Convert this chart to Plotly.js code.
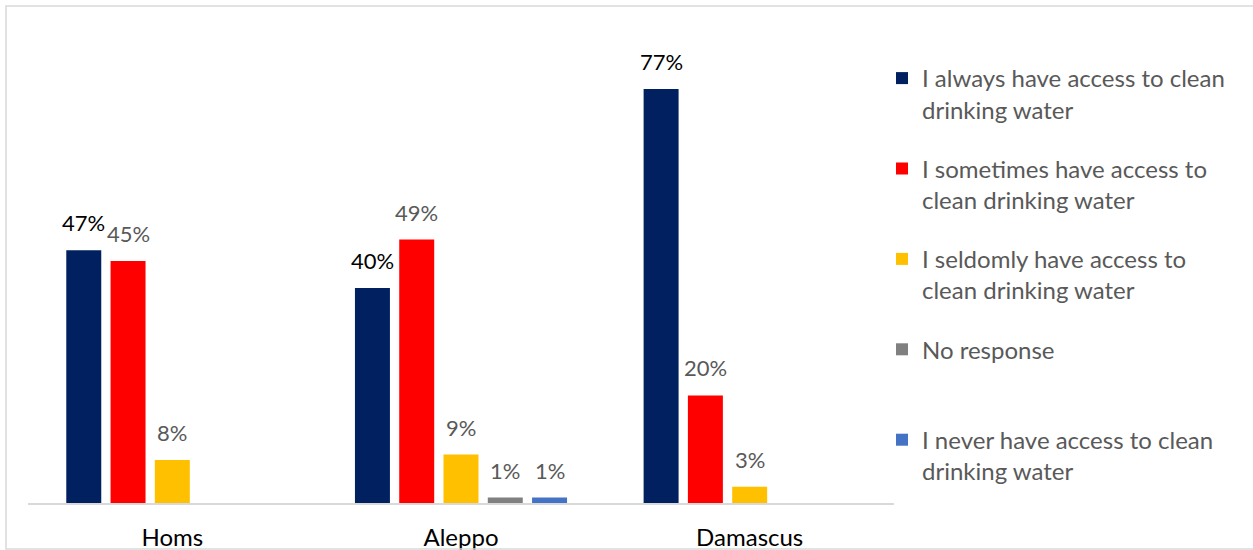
<!DOCTYPE html>
<html>
<head>
<meta charset="utf-8">
<script src="https://cdn.plot.ly/plotly-3.0.1.min.js"></script>
<style>
html,body{margin:0;padding:0;background:#fff;}
#chart{width:1253px;height:550px;}
</style>
</head>
<body>
<div id="chart"></div>
<script>
const categories = ["Homs", "Aleppo", "Damascus"];
const seriesNames = [
  "I always have access to clean<br>drinking water",
  "I sometimes have access to<br>clean drinking water",
  "I seldomly have access to<br>clean drinking water",
  "No response<br> ",
  "I never have access to clean<br>drinking water"
];
const always    = [47, 40, 77];
const sometimes = [45, 49, 20];
const seldomly  = [8, 9, 3];
const noResponse = [null, 1, null];
const never     = [null, 1, null];

const seriesValues = [always, sometimes, seldomly, noResponse, never];
const colors = ["#002060", "#FF0000", "#FFC000", "#808080", "#4472C4"];
const labelColors = ["#000000", "#595959", "#595959", "#595959", "#595959"];

const FONT = "Lato, 'Open Sans', sans-serif";
const W = 1253, H = 550;
const margin = {l: 28, r: 359, t: 10, b: 47, autoexpand: false};
const bargap = 0.233, bargroupgap = 0.21;
const plotW = W - margin.l - margin.r;
const slotPx = plotW / categories.length * (1 - bargap) / seriesValues.length;

const traces = seriesValues.map((vals, i) => ({
  type: "bar",
  name: seriesNames[i],
  x: categories,
  y: vals,
  marker: {color: colors[i]},
  legendgroup: "g" + i,
  hoverinfo: "x+y"
}));

const annotations = [];
seriesValues.forEach((vals, i) => {
  vals.forEach((v, j) => {
    if (v === null) return;
    annotations.push({
      x: categories[j], y: v, xref: "x", yref: "y",
      xshift: (i - (seriesValues.length - 1) / 2) * slotPx,
      yshift: 12,
      yanchor: "bottom",
      showarrow: false,
      text: v + "%",
      font: {family: FONT, size: 22, color: labelColors[i]}
    });
  });
});

const plotH = H - margin.t - margin.b;
const layout = {
  width: W, height: H,
  margin: margin,
  paper_bgcolor: "#ffffff",
  plot_bgcolor: "#ffffff",
  font: {family: FONT},
  barmode: "group",
  bargap: bargap,
  bargroupgap: bargroupgap,
  showlegend: true,
  legend: {
    xref: "container", yref: "container",
    x: 882 / W, xanchor: "left",
    y: 1 - 56 / H, yanchor: "top",
    valign: "top",
    tracegroupgap: 25,
    maxheight: 500,
    font: {family: FONT, size: 24, color: "#595959"},
    bgcolor: "rgba(0,0,0,0)"
  },
  xaxis: {
    type: "category",
    showline: true, linecolor: "#D9D9D9", linewidth: 2,
    showgrid: false, zeroline: false, ticks: "",
    ticklabelstandoff: 12,
    tickfont: {family: FONT, size: 24, color: "#000000"}
  },
  yaxis: {
    range: [0, 91.7],
    visible: false,
    showgrid: false, zeroline: false
  },
  annotations: annotations,
  shapes: [{
    type: "rect", xref: "paper", yref: "paper",
    x0: (6 - margin.l) / plotW, x1: (W + 10 - margin.l) / plotW,
    y0: -(549 - (H - margin.b)) / plotH, y1: ((H - margin.b) - 6) / plotH,
    line: {color: "#D9D9D9", width: 1.5},
    fillcolor: "rgba(0,0,0,0)"
  }]
};

Plotly.newPlot("chart", traces, layout, {displayModeBar: false, staticPlot: true});
</script>
</body>
</html>
